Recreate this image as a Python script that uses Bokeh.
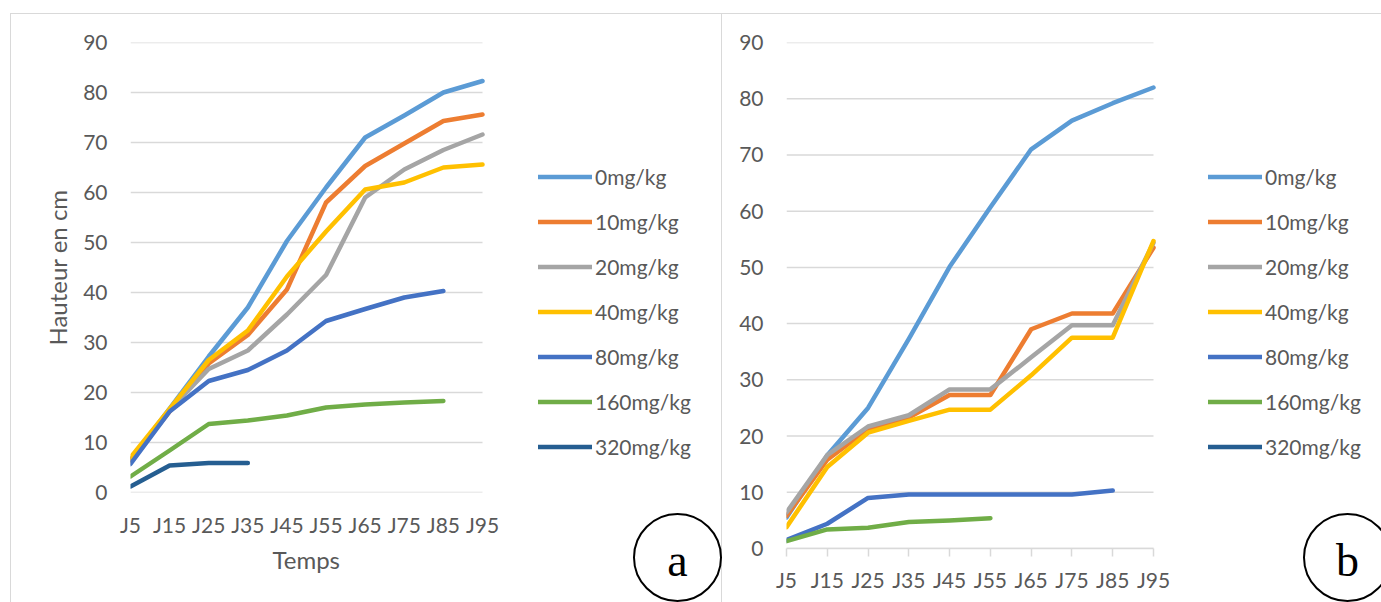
import math
from bokeh.plotting import figure
from bokeh.models import Range1d, FixedTicker, Legend, LegendItem, Div, Title
from bokeh.layouts import row
from bokeh.embed import file_html
from bokeh.resources import INLINE

days = ["J5", "J15", "J25", "J35", "J45", "J55", "J65", "J75", "J85", "J95"]
doses = ["0mg/kg", "10mg/kg", "20mg/kg", "40mg/kg", "80mg/kg", "160mg/kg", "320mg/kg"]
colors = ["#5B9BD5", "#ED7D31", "#A5A5A5", "#FFC000", "#4472C4", "#70AD47", "#255E91"]

# Chart a
a_0 = [6.5, 16.8, 27.2, 37.0, 50.3, 61.0, 71.0, 75.4, 80.0, 82.3]
a_10 = [6.5, 16.2, 25.8, 31.5, 40.6, 58.0, 65.3, 69.8, 74.3, 75.6]
a_20 = [6.0, 16.5, 24.7, 28.4, 35.6, 43.5, 59.0, 64.6, 68.5, 71.6]
a_40 = [7.0, 16.7, 26.5, 32.4, 43.2, 52.2, 60.6, 62.0, 65.0, 65.6]
a_80 = [5.7, 16.2, 22.3, 24.5, 28.4, 34.3, 36.7, 39.0, 40.3]
a_160 = [3.2, 8.4, 13.7, 14.4, 15.4, 17.0, 17.6, 18.0, 18.3]
a_320 = [1.2, 5.4, 5.9, 5.9]

# Chart b
b_0 = [5.5, 16.6, 25.0, 37.3, 50.1, 60.7, 71.0, 76.1, 79.2, 82.0]
b_10 = [5.8, 15.8, 21.2, 23.3, 27.3, 27.3, 39.0, 41.8, 41.8, 53.5]
b_20 = [6.4, 16.6, 21.7, 23.7, 28.3, 28.3, 34.0, 39.7, 39.7, 54.4]
b_40 = [3.8, 14.5, 20.6, 22.7, 24.7, 24.7, 30.8, 37.5, 37.5, 54.7]
b_80 = [1.5, 4.4, 9.0, 9.6, 9.6, 9.6, 9.6, 9.6, 10.3]
b_160 = [1.3, 3.4, 3.7, 4.7, 5.0, 5.4]
b_320 = []

y_ticks = [0, 10, 20, 30, 40, 50, 60, 70, 80, 90]

FONT = "Lato"
TXT = "#595959"
GRID = "#D9D9D9"
W, H = 1381, 602
LW = 722


def make_chart(series, left, width, j5_px, j95_px, top_px, zero_px, ticks_x,
               xlabel, ylabel, leg_left, leg_bottom):
    n = len(days) - 1
    unit = (j95_px - j5_px) / n
    x_end = (left + width - j5_px) / unit   # frame reaches the canvas' right edge
    p = figure(width=width, height=H, output_backend="svg", toolbar_location=None,
               x_range=Range1d(0, x_end), y_range=Range1d(0, 90),
               min_border_left=j5_px - left, min_border_right=0,
               min_border_top=top_px, min_border_bottom=H - zero_px,
               frame_align=False)
    p.outline_line_color = None
    p.background_fill_color = "white"
    p.border_fill_color = "white"
    p.xgrid.grid_line_color = None
    p.ygrid.grid_line_color = None
    # horizontal gridlines limited to the category span
    p.segment(x0=0, x1=n, y0=y_ticks, y1=y_ticks, line_color=GRID, line_width=1.5)

    p.yaxis.ticker = FixedTicker(ticks=y_ticks)
    p.xaxis.ticker = FixedTicker(ticks=list(range(len(days))))
    p.xaxis.major_label_overrides = {i: d for i, d in enumerate(days)}
    p.xaxis.bounds = (0, n)
    for ax in (p.xaxis[0], p.yaxis[0]):
        ax.major_label_text_font = FONT
        ax.major_label_text_font_size = "21px"
        ax.major_label_text_color = TXT
        ax.minor_tick_line_color = None
        ax.minor_tick_in = 0
        ax.minor_tick_out = 0
        ax.axis_label_text_font = FONT
        ax.axis_label_text_font_size = "24px"
        ax.axis_label_text_font_style = "normal"
        ax.axis_label_text_color = TXT
    p.yaxis.axis_line_color = None
    p.yaxis.major_tick_line_color = None
    p.yaxis.major_tick_in = 0
    p.yaxis.major_tick_out = 0
    p.yaxis.major_label_standoff = 23
    if ticks_x:
        p.xaxis.axis_line_color = GRID
        p.xaxis.axis_line_width = 1.5
        p.xaxis.major_tick_line_color = GRID
        p.xaxis.major_tick_line_width = 1.5
        p.xaxis.major_tick_in = 0
        p.xaxis.major_tick_out = 8
        p.xaxis.major_label_standoff = 10
    else:
        p.xaxis.axis_line_color = None
        p.xaxis.major_tick_line_color = None
        p.xaxis.major_tick_in = 0
        p.xaxis.major_tick_out = 0
        p.xaxis.major_label_standoff = 19
    if ylabel:
        p.yaxis.axis_label = ylabel
        p.yaxis.axis_label_standoff = 8
    if xlabel:
        t = Title(text=xlabel, align="left", offset=142, standoff=10,
                  vertical_align="top", text_font=FONT, text_font_size="24px",
                  text_font_style="normal", text_color=TXT)
        p.add_layout(t, "below")

    items = []
    for name, col, ys in zip(doses, colors, series):
        if len(ys) == 0:
            ys = [math.nan]
        xs = list(range(len(ys)))
        r = p.line(xs, ys, line_color=col, line_width=4.5, line_cap="round",
                   line_join="round")
        items.append(LegendItem(label=name, renderers=[r]))
    leg = Legend(items=items, location=(leg_left - j5_px, zero_px - leg_bottom))
    leg.background_fill_alpha = 0
    leg.border_line_color = None
    leg.padding = 0
    leg.margin = 0
    leg.spacing = 20
    leg.glyph_width = 54
    leg.glyph_height = 25
    leg.label_height = 25
    leg.label_standoff = 3
    leg.label_text_font = FONT
    leg.label_text_font_size = "21px"
    leg.label_text_color = TXT
    leg.label_text_baseline = "middle"
    p.add_layout(leg)
    return p


pa = make_chart([a_0, a_10, a_20, a_40, a_80, a_160, a_320], 0, LW,
                130, 482, 42, 492, False, "Temps", "Hauteur en cm", 538, 459)
pb = make_chart([b_0, b_10, b_20, b_40, b_80, b_160, b_320], LW, W - LW,
                786, 1153, 42, 548, True, None, None, 1208, 459)

BORDER = "1.5px solid #D9D9D9"
BADGE = ("position:absolute;top:513px;width:89px;height:89px;box-sizing:border-box;"
         "border:2px solid #000;border-radius:50%;")
LETTER = ("position:absolute;top:538px;width:89px;text-align:center;line-height:46px;"
          "font-family:'Liberation Serif';font-size:46px;color:#000;")
html = (
    f'<div style="position:relative;width:{W}px;height:{H}px;overflow:hidden;margin:0;">'
    f'<div style="position:absolute;left:10px;top:13px;width:{W + 20}px;height:{H + 20}px;'
    f'border-left:{BORDER};border-top:{BORDER};"></div>'
    f'<div style="position:absolute;left:721px;top:13px;width:0px;height:{H + 20}px;'
    f'border-left:{BORDER};"></div>'
    f'<div style="{BADGE}left:633px;"></div>'
    f'<div style="{LETTER}left:633px;">a</div>'
    f'<div style="{BADGE}left:1303px;"></div>'
    f'<div style="{LETTER}left:1303px;">b</div>'
    '</div>'
)
overlay = Div(text=html, width=W, height=H, margin=0,
              styles={"position": "absolute", "left": "0px", "top": "0px",
                      "pointer-events": "none", "overflow": "hidden",
                      "margin": "0px", "padding": "0px"})

layout = row(pa, pb, overlay)
open("out.html", "w").write(file_html(layout, INLINE))
